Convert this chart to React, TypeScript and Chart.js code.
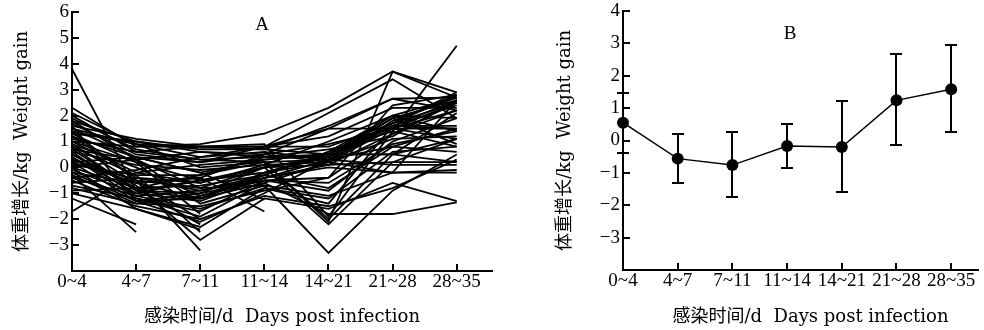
import React, { useEffect, useRef } from "react";
import { Chart, registerables } from "chart.js";

Chart.register(...registerables);

// ---------- data ----------
const periods = ["0~4", "4~7", "7~11", "11~14", "14~21", "21~28", "28~35"];
const yTicksA = [-3, -2, -1, 0, 1, 2, 3, 4, 5, 6];
const yTicksB = [-3, -2, -1, 0, 1, 2, 3, 4];

// Panel A: weight gain of individual animals (kg) per period
const individualSeries: (number | null)[][] = [
  [3.8, -0.9, -0.5, 0.0, 0.4, 1.6, 2.6],
  [2.3, 0.8, 0.9, 1.3, 2.3, 3.7, 2.9],
  [2.1, 0.9, 0.4, 0.8, 2.1, 3.4, 1.9],
  [2.0, 0.6, 0.8, 0.9, -1.9, 1.4, 4.7],
  [1.9, 0.7, 0.3, 0.2, -2.1, 3.7, 2.7],
  [1.8, 1.0, 0.7, 0.7, 1.6, 2.65, 2.7],
  [1.7, 0.5, 0.2, 0.5, 1.5, 2.65, 2.2],
  [1.6, 1.1, 0.8, 0.8, 1.2, 2.3, 2.3],
  [1.5, 0.4, -0.2, 0.3, 0.5, 1.9, 0.9],
  [1.4, 0.9, 0.8, 0.8, 0.8, 1.7, 2.8],
  [1.3, 0.2, -0.5, -0.2, 0.4, 1.6, 1.5],
  [1.2, -0.4, -0.9, -0.4, 0.3, 1.5, 1.5],
  [1.1, 0.6, 0.3, 0.4, 0.5, 0.5, 1.1],
  [1.0, -0.2, -0.6, 0.0, 0.1, 0.2, 0.2],
  [0.9, 0.0, -1.1, -0.5, -0.4, 1.3, 2.5],
  [0.8, -0.9, -1.2, -0.3, -0.8, 0.8, 0.6],
  [0.7, 0.3, -1.4, -0.7, -1.1, -0.2, 2.6],
  [0.6, -1.1, -1.6, -0.8, -1.4, 1.6, 2.4],
  [0.5, -0.7, -2.8, -1.2, -1.6, -0.6, -1.3],
  [0.4, -1.2, -1.9, -0.6, -1.8, -1.8, -1.35],
  [0.3, -0.5, -0.8, -0.7, -3.3, -0.9, 0.5],
  [0.2, -1.3, -1.0, 0.0, -2.2, 0.2, 1.1],
  [0.1, -0.3, -0.3, 0.2, -2.0, 0.5, 2.1],
  [0.0, -0.8, -0.7, -0.3, 0.6, 1.4, 0.8],
  [-0.1, -1.0, -1.3, -0.4, 0.0, -0.2, -0.2],
  [-0.2, -0.6, -0.4, 0.5, 0.9, 1.5, 2.2],
  [-0.3, -1.4, -1.5, -0.9, -0.4, 2.4, 2.8],
  [-0.4, -0.1, 0.4, 0.6, 0.3, 0.8, 1.5],
  [-0.5, -1.5, -2.0, -1.1, -1.5, -0.8, 0.3],
  [-0.6, -0.4, -0.6, 0.1, 0.2, 1.8, 2.7],
  [-0.7, -1.2, -1.7, -0.5, -0.9, 1.0, 1.9],
  [-0.9, -0.8, -0.3, 0.4, 0.7, 1.2, 2.6],
  [-1.0, -1.6, -2.3, -0.8, -1.2, 0.6, 0.8],
  [-1.7, -0.2, 0.1, 0.3, 0.5, 2.0, 1.4],
  [1.0, 0.8, 0.8, 0.7, 0.5, 0.5, 0.2],
  [0.6, 0.1, -0.1, 0.1, 1.0, 2.0, 2.7],
  [0.0, 0.3, 0.6, 0.4, 0.4, 1.7, 2.9],
  [-0.2, -1.3, -2.1, -1.0, 0.3, 1.6, 1.6],
  [1.3, 1.0, 0.6, 0.5, 0.2, -0.2, -0.1],
  [0.2, 0.4, 0.2, 0.8, 1.5, 1.5, 1.1],
  [1.6, -1.3, -1.2, -0.6, 0.2, 1.1, 1.2],
  [0.4, -1.0, -0.5, -0.2, 0.2, 1.5, 2.5],
  [-0.4, -1.1, -0.9, -0.3, 0.6, 2.0, 1.9],
  [1.8, 0.3, -0.8, 0.0, 0.4, 1.9, 2.6],
  [0.7, -0.9, -1.0, -0.5, -0.6, 0.9, 1.4],
  [-0.8, -1.4, -1.1, -0.4, 0.1, 1.3, 2.2],
  [1.5, 0.9, 0.0, 0.2, 0.3, 0.1, 0.1],
  [0.9, -0.6, -1.2, -0.2, 0.5, 1.7, 2.5],
  [-1.2, -2.2, null, null, null, null, null],
  [-0.3, -2.5, null, null, null, null, null],
  [0.3, -0.5, -3.2, null, null, null, null],
  [0.8, -0.3, -2.5, null, null, null, null],
  [0.5, -0.8, -2.2, null, null, null, null],
  [1.0, 0.2, -1.8, null, null, null, null],
  [1.4, -0.5, -2.0, null, null, null, null],
  [0.0, -1.6, -2.4, null, null, null, null],
  [0.2, -0.6, -0.4, -1.7, null, null, null],
  [1.2, 0.4, -0.2, -1.25, null, null, null],
];

// Panel B: mean weight gain with error bars
const meanGain = [0.55, -0.56, -0.76, -0.17, -0.2, 1.24, 1.58];
const errUpper = [1.48, 0.2, 0.26, 0.52, 1.23, 2.66, 2.96];
const errLower = [-0.38, -1.3, -1.76, -0.86, -1.59, -0.14, 0.25];

const yTitle = "体重增长/kg  Weight gain";
const xTitle = "感染时间/d  Days post infection";

// ---------- styling helpers ----------
const TICK_FONT = { family: '"Liberation Serif", "DejaVu Serif", serif', size: 19, lineHeight: 1 };
const TITLE_FONT = '18px "DejaVu Serif", "Noto Sans CJK SC", serif';
const PANEL_FONT = '19px "Liberation Serif", serif';

const fmtY = (v: number) => (v < 0 ? "\u2212" + Math.abs(v) : String(v));

function decorPlugin(o: {
  panel: string;
  panelX: number;
  panelY: number;
  yTitleX: number;
  xTitleDx: number;
  xTitleY: number;
}) {
  return {
    id: "decor",
    afterDraw(chart: any) {
      const { ctx, chartArea, scales } = chart;
      const xs = scales.x;
      const ys = scales.y;
      ctx.save();
      ctx.strokeStyle = "#000";
      ctx.lineWidth = 2;
      ctx.beginPath();
      ys.ticks.forEach((t: any) => {
        const py = Math.round(ys.getPixelForValue(t.value));
        ctx.moveTo(chartArea.left, py);
        ctx.lineTo(chartArea.left + 7, py);
      });
      xs.ticks.forEach((t: any) => {
        const px = Math.round(xs.getPixelForValue(t.value));
        ctx.moveTo(px, chartArea.bottom);
        ctx.lineTo(px, chartArea.bottom - 7);
      });
      ctx.stroke();

      ctx.fillStyle = "#000";
      ctx.textAlign = "center";
      ctx.textBaseline = "middle";
      ctx.font = PANEL_FONT;
      ctx.fillText(o.panel, o.panelX, o.panelY);

      ctx.font = TITLE_FONT;
      ctx.fillText(xTitle, (chartArea.left + chartArea.right) / 2 + o.xTitleDx, o.xTitleY);

      ctx.translate(o.yTitleX, (chartArea.top + chartArea.bottom) / 2);
      ctx.rotate(-Math.PI / 2);
      ctx.fillText(yTitle, 0, 0);
      ctx.restore();
    },
  };
}

const errorBarPlugin = {
  id: "errorBars",
  beforeDatasetsDraw(chart: any) {
    const { ctx, scales } = chart;
    const xs = scales.x;
    const ys = scales.y;
    ctx.save();
    ctx.strokeStyle = "#000";
    ctx.lineWidth = 2;
    meanGain.forEach((_, i) => {
      const px = Math.round(xs.getPixelForValue(i));
      const top = Math.round(ys.getPixelForValue(errUpper[i]));
      const bot = Math.round(ys.getPixelForValue(errLower[i]));
      ctx.beginPath();
      ctx.moveTo(px, top);
      ctx.lineTo(px, bot);
      ctx.moveTo(px - 6, top);
      ctx.lineTo(px + 6, top);
      ctx.moveTo(px - 6, bot);
      ctx.lineTo(px + 6, bot);
      ctx.stroke();
    });
    ctx.restore();
  },
};

function makeScales(yMin: number, yMax: number, yTicks: number[], xMax: number, yWidth: number, xHeight: number) {
  return {
    x: {
      type: "linear",
      min: 0,
      max: xMax,
      afterBuildTicks: (s: any) => {
        s.ticks = periods.map((_, i) => ({ value: i }));
      },
      afterFit: (s: any) => {
        s.height = xHeight;
        s.paddingLeft = 0;
        s.paddingRight = 0;
      },
      grid: { display: false, drawTicks: false },
      border: { display: true, color: "#000", width: 2 },
      ticks: {
        autoSkip: false,
        maxRotation: 0,
        minRotation: 0,
        padding: 2,
        color: "#000",
        font: TICK_FONT,
        callback: (v: any) => periods[v] ?? "",
      },
    },
    y: {
      type: "linear",
      min: yMin,
      max: yMax,
      afterBuildTicks: (s: any) => {
        s.ticks = yTicks.map((v) => ({ value: v }));
      },
      afterFit: (s: any) => {
        s.width = yWidth;
        s.paddingTop = 0;
        s.paddingBottom = 0;
      },
      grid: { display: false, drawTicks: false },
      border: { display: true, color: "#000", width: 2 },
      ticks: {
        autoSkip: false,
        padding: 3,
        color: "#000",
        font: TICK_FONT,
        callback: (v: any) => fmtY(Number(v)),
      },
    },
  };
}

export default function App() {
  const refA = useRef<HTMLCanvasElement>(null);
  const refB = useRef<HTMLCanvasElement>(null);

  useEffect(() => {
    const chartA = new Chart(refA.current as HTMLCanvasElement, {
      type: "line",
      data: {
        datasets: individualSeries.map((s) => ({
          data: s.map((v, i) => ({ x: i, y: v })),
          borderColor: "#000",
          borderWidth: 1.8,
          pointRadius: 0,
          fill: false,
          tension: 0,
          spanGaps: false,
          clip: false,
        })),
      } as any,
      options: {
        animation: false,
        responsive: false,
        events: [],
        layout: { padding: { left: 0, right: 28, top: 12, bottom: 0 } },
        plugins: { legend: { display: false }, tooltip: { enabled: false } },
        scales: makeScales(-4, 6, yTicksA, 6.55, 72, 59) as any,
      },
      plugins: [decorPlugin({ panel: "A", panelX: 262, panelY: 25, yTitleX: 22, xTitleDx: 0, xTitleY: 317 })],
    });

    const chartB = new Chart(refB.current as HTMLCanvasElement, {
      type: "line",
      data: {
        datasets: [
          {
            data: meanGain.map((v, i) => ({ x: i, y: v })),
            borderColor: "#000",
            backgroundColor: "#000",
            borderWidth: 1.5,
            pointRadius: 6,
            pointBorderWidth: 0,
            pointBackgroundColor: "#000",
            fill: false,
            tension: 0,
            clip: false,
          },
        ],
      } as any,
      options: {
        animation: false,
        responsive: false,
        events: [],
        layout: { padding: { left: 0, right: 0, top: 11, bottom: 0 } },
        plugins: { legend: { display: false }, tooltip: { enabled: false } },
        scales: makeScales(-4, 4, yTicksB, 6.49, 93, 60) as any,
      },
      plugins: [errorBarPlugin, decorPlugin({ panel: "B", panelX: 260, panelY: 34, yTitleX: 35, xTitleDx: 10, xTitleY: 317 })],
    });

    return () => {
      chartA.destroy();
      chartB.destroy();
    };
  }, []);

  return (
    <div style={{ position: "fixed", left: 0, top: 0, width: 984, height: 330, background: "#fff" }}>
      <canvas ref={refA} width={520} height={330} style={{ position: "absolute", left: 0, top: 0 }} />
      <canvas ref={refB} width={454} height={330} style={{ position: "absolute", left: 530, top: 0 }} />
    </div>
  );
}
